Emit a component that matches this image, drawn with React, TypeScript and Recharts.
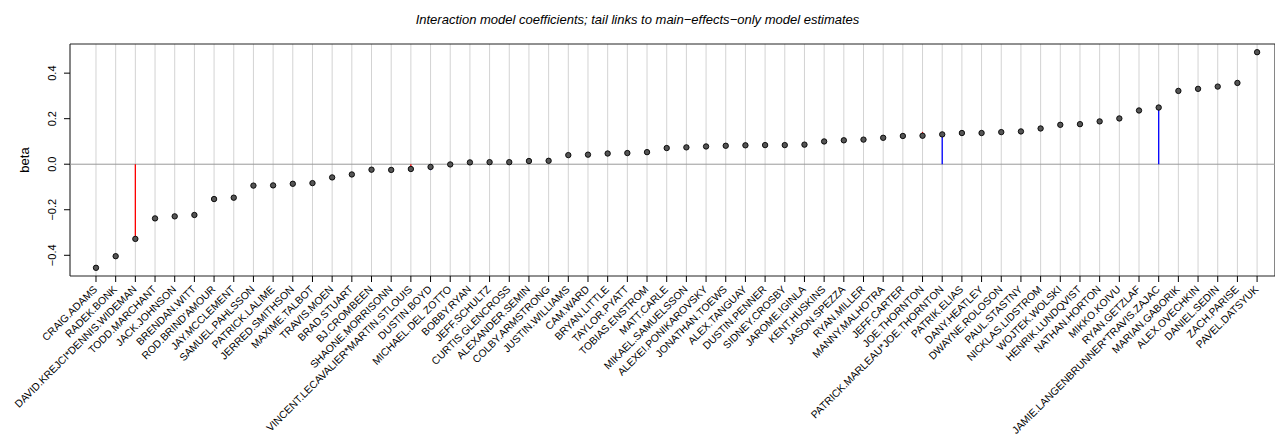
import {
  CartesianGrid,
  ComposedChart,
  ReferenceArea,
  ReferenceLine,
  Scatter,
  XAxis,
  YAxis,
} from "recharts";

const players = [
  "CRAIG.ADAMS", "RADEK.BONK", "DAVID.KREJCI*DENNIS.WIDEMAN", "TODD.MARCHANT",
  "JACK.JOHNSON", "BRENDAN.WITT", "ROD.BRIND'AMOUR", "JAY.MCCLEMENT",
  "SAMUEL.PAHLSSON", "PATRICK.LALIME", "JERRED.SMITHSON", "MAXIME.TALBOT",
  "TRAVIS.MOEN", "BRAD.STUART", "BJ.CROMBEEN", "SHAONE.MORRISONN",
  "VINCENT.LECAVALIER*MARTIN.STLOUIS", "DUSTIN.BOYD", "MICHAEL.DEL ZOTTO", "BOBBY.RYAN",
  "JEFF.SCHULTZ", "CURTIS.GLENCROSS", "ALEXANDER.SEMIN", "COLBY.ARMSTRONG",
  "JUSTIN.WILLIAMS", "CAM.WARD", "BRYAN.LITTLE", "TAYLOR.PYATT",
  "TOBIAS.ENSTROM", "MATT.CARLE", "MIKAEL.SAMUELSSON", "ALEXEI.PONIKAROVSKY",
  "JONATHAN.TOEWS", "ALEX.TANGUAY", "DUSTIN.PENNER", "SIDNEY.CROSBY",
  "JAROME.IGINLA", "KENT.HUSKINS", "JASON.SPEZZA", "RYAN.MILLER",
  "MANNY.MALHOTRA", "JEFF.CARTER", "JOE.THORNTON", "PATRICK.MARLEAU*JOE.THORNTON",
  "PATRIK.ELIAS", "DANY.HEATLEY", "DWAYNE.ROLOSON", "PAUL.STASTNY",
  "NICKLAS.LIDSTROM", "WOJTEK.WOLSKI", "HENRIK.LUNDQVIST", "NATHAN.HORTON",
  "MIKKO.KOIVU", "RYAN.GETZLAF", "JAMIE.LANGENBRUNNER*TRAVIS.ZAJAC", "MARIAN.GABORIK",
  "ALEX.OVECHKIN", "DANIEL.SEDIN", "ZACH.PARISE", "PAVEL.DATSYUK",
];

const beta = [
  -0.455, -0.404, -0.328, -0.238, -0.229, -0.223, -0.153, -0.147,
  -0.094, -0.093, -0.086, -0.083, -0.058, -0.045, -0.024, -0.025,
  -0.021, -0.012, -0.001, 0.008, 0.009, 0.009, 0.014, 0.015,
  0.04, 0.042, 0.047, 0.049, 0.053, 0.071, 0.074, 0.078,
  0.081, 0.083, 0.084, 0.084, 0.086, 0.1, 0.105, 0.108,
  0.116, 0.124, 0.125, 0.131, 0.137, 0.137, 0.141, 0.144,
  0.157, 0.173, 0.176, 0.188, 0.201, 0.236, 0.249, 0.322,
  0.331, 0.341, 0.357, 0.492,
];

// main-effects-only estimates, only where the tail shows outside the dot
const tailPlayers = [
  "DAVID.KREJCI*DENNIS.WIDEMAN", "VINCENT.LECAVALIER*MARTIN.STLOUIS", "DUSTIN.BOYD",
  "JOE.THORNTON", "PATRICK.MARLEAU*JOE.THORNTON", "JAMIE.LANGENBRUNNER*TRAVIS.ZAJAC",
];
const tailEstimates = [0, 0, -0.026, 0.142, 0, 0];

const yTicks = [-0.4, -0.2, 0, 0.2, 0.4];

const X_DOMAIN: [number, number] = [-0.321, 60.91];
const Y_DOMAIN: [number, number] = [-0.491, 0.528];

const data = players.map((name, i) => ({ idx: i + 1, name, beta: beta[i] }));
const xTicks = players.map((_, i) => i + 1);

const tails = tailPlayers.map((name, k) => {
  const i = players.indexOf(name);
  return { x: i + 1, from: beta[i], to: tailEstimates[k] };
});

const FONT = "'Liberation Sans', Arial, Helvetica, sans-serif";
const fmt = (v: number) => (v < 0 ? "\u2212" : "") + Math.abs(v).toFixed(1);

const XTick = (props: any) => {
  const { x, payload } = props;
  const ax = x + 2;
  const ay = 290;
  return (
    <text
      x={ax}
      y={ay}
      transform={`rotate(-45 ${ax} ${ay})`}
      textAnchor="end"
      fontSize={10.4}
      fontFamily={FONT}
      fill="#000"
    >
      {players[payload.value - 1]}
    </text>
  );
};

const YTick = (props: any) => {
  const { y, payload } = props;
  const ax = 56;
  return (
    <text
      x={ax}
      y={y}
      transform={`rotate(-90 ${ax} ${y})`}
      textAnchor="middle"
      fontSize={11}
      fontFamily={FONT}
      fill="#000"
    >
      {fmt(payload.value)}
    </text>
  );
};

const Dot = (props: any) => (
  <circle cx={props.cx} cy={props.cy} r={2.7} fill="#555555" stroke="#000" strokeWidth={0.9} />
);

export default function App() {
  return (
    <div style={{ position: "absolute", left: 0, top: 0, width: 1275, height: 438, background: "#fff" }}>
      <div
        style={{
          position: "absolute",
          left: 0,
          width: 1275,
          top: 11.5,
          textAlign: "center",
          fontFamily: FONT,
          fontSize: 13,
          fontStyle: "italic",
          whiteSpace: "nowrap",
        }}
      >
        Interaction model coefficients; tail links to main{"\u2212"}effects{"\u2212"}only model estimates
      </div>
      <div
        style={{
          position: "absolute",
          left: 24,
          top: 160,
          transform: "translate(-50%, -50%) rotate(-90deg)",
          fontFamily: FONT,
          fontSize: 13,
          whiteSpace: "nowrap",
        }}
      >
        beta
      </div>
      <ComposedChart
        width={1275}
        height={438}
        data={data}
        margin={{ top: 44, right: 0, bottom: 0, left: 0 }}
      >
        <CartesianGrid horizontal={false} stroke="#d3d3d3" strokeWidth={1} />
        <XAxis
          type="number"
          dataKey="idx"
          domain={X_DOMAIN}
          ticks={xTicks}
          interval={0}
          height={162}
          tickSize={6}
          tickLine={{ stroke: "#000" }}
          axisLine={false}
          tick={<XTick />}
          allowDataOverflow
        />
        <YAxis
          type="number"
          dataKey="beta"
          domain={Y_DOMAIN}
          ticks={yTicks}
          width={70}
          tickSize={6}
          tickLine={{ stroke: "#000" }}
          axisLine={false}
          tick={<YTick />}
          allowDataOverflow
        />
        <ReferenceLine y={0} stroke="#999999" strokeWidth={1} />
        {tails.map((t) => (
          <ReferenceLine
            key={t.x}
            segment={[
              { x: t.x, y: t.from },
              { x: t.x, y: t.to },
            ]}
            stroke={t.to > t.from ? "#ff0000" : "#0000ff"}
            strokeWidth={1.3}
          />
        ))}
        <ReferenceArea
          x1={X_DOMAIN[0]}
          x2={X_DOMAIN[1]}
          y1={Y_DOMAIN[0]}
          y2={Y_DOMAIN[1]}
          fill="none"
          stroke="#222222"
          strokeWidth={1}
          ifOverflow="visible"
        />
        <Scatter dataKey="beta" shape={<Dot />} isAnimationActive={false} />
      </ComposedChart>
    </div>
  );
}
